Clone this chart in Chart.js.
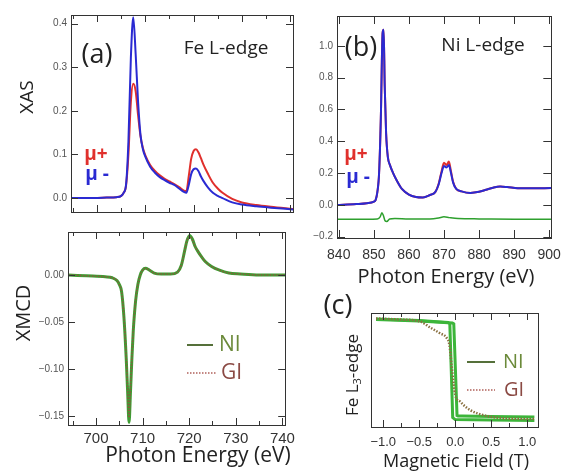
<!DOCTYPE html>
<html>
<head>
<meta charset="utf-8">
<script src="https://cdn.jsdelivr.net/npm/chart.js@4.4.1/dist/chart.umd.min.js"></script>
<style>
  html, body { margin: 0; padding: 0; background: #fff; }
  body { position: relative; width: 570px; height: 472px; overflow: hidden; }
  canvas { position: absolute; }
</style>
</head>
<body>
<canvas id="feXas" width="300" height="222" style="left:0;top:0"></canvas>
<canvas id="feXmcd" width="300" height="250" style="left:0;top:222px"></canvas>
<canvas id="niXas" width="270" height="290" style="left:300px;top:0"></canvas>
<canvas id="loop" width="270" height="182" style="left:300px;top:290px"></canvas>
<script>
// DATA - Fe L-edge XAS (a, top)
const feE = [694, 698, 702, 704, 705, 705.5, 706, 706.5, 707, 707.5, 708, 708.5, 709, 709.5, 710, 711, 712, 713, 714, 715, 716, 717, 718, 718.5, 719, 719.5, 720, 720.5, 721, 721.5, 722, 723, 724, 725, 726, 728, 730, 733, 736, 740.6];
const feMuPlus = [0, 0, 0.001, 0.002, 0.005, 0.012, 0.028, 0.1, 0.22, 0.262, 0.245, 0.19, 0.142, 0.115, 0.098, 0.076, 0.062, 0.052, 0.044, 0.038, 0.032, 0.025, 0.017, 0.016, 0.05, 0.09, 0.108, 0.112, 0.105, 0.092, 0.078, 0.055, 0.035, 0.022, 0.012, -0.002, -0.01, -0.016, -0.02, -0.025];
const feMuMinus = [0, 0, 0.001, 0.002, 0.005, 0.012, 0.03, 0.13, 0.32, 0.415, 0.33, 0.22, 0.145, 0.112, 0.095, 0.072, 0.058, 0.048, 0.041, 0.035, 0.03, 0.022, 0.014, 0.012, 0.03, 0.055, 0.066, 0.068, 0.062, 0.05, 0.04, 0.024, 0.012, 0.005, 0, -0.01, -0.015, -0.019, -0.022, -0.026];

// DATA - Fe XMCD (a, bottom)
const dichE = [694, 698, 702, 703.5, 704.5, 705, 705.5, 706, 706.5, 706.8, 707.1, 707.4, 707.7, 708, 708.5, 709, 709.5, 710, 710.6, 711.5, 712.5, 714, 716, 717.5, 718.3, 719, 719.5, 720.1, 720.7, 721.3, 722, 722.7, 723.5, 724.8, 726.5, 728.5, 731, 735, 740.6];
const dichNI = [0, -0.001, -0.002, -0.003, -0.006, -0.01, -0.018, -0.045, -0.09, -0.125, -0.157, -0.125, -0.09, -0.06, -0.028, -0.01, 0, 0.005, 0.007, 0.005, 0.002, 0.001, 0.001, 0.003, 0.01, 0.025, 0.036, 0.042, 0.038, 0.03, 0.024, 0.019, 0.014, 0.009, 0.005, 0.002, 0.001, 0, 0];
const dichGI = [0, -0.001, -0.002, -0.003, -0.006, -0.01, -0.018, -0.044, -0.088, -0.122, -0.152, -0.122, -0.088, -0.059, -0.027, -0.01, 0, 0.005, 0.007, 0.005, 0.002, 0.001, 0.001, 0.003, 0.01, 0.025, 0.036, 0.041, 0.037, 0.03, 0.024, 0.019, 0.014, 0.009, 0.005, 0.002, 0.001, 0, 0];

// DATA - Ni L-edge (b)
const niE = [839.5, 845, 848, 850, 850.5, 851, 851.5, 852, 852.5, 852.8, 853.1, 853.5, 854, 854.6, 855.5, 856.5, 858, 860, 862, 864, 866, 867.5, 868.5, 869.3, 870, 870.7, 871.4, 872, 872.6, 873.5, 875, 877.5, 880, 882, 884, 886, 888, 891, 895, 900.5];
const niMuPlus = [0, 0.005, 0.01, 0.02, 0.03, 0.08, 0.2, 0.55, 1.08, 1.1, 0.75, 0.45, 0.3, 0.25, 0.2, 0.155, 0.1, 0.065, 0.05, 0.047, 0.062, 0.08, 0.135, 0.21, 0.265, 0.25, 0.272, 0.21, 0.145, 0.1, 0.085, 0.075, 0.082, 0.095, 0.108, 0.115, 0.112, 0.105, 0.104, 0.106];
const niMuMinus = [0, 0.005, 0.01, 0.02, 0.03, 0.08, 0.2, 0.55, 1.08, 1.1, 0.75, 0.45, 0.3, 0.25, 0.2, 0.155, 0.1, 0.065, 0.05, 0.047, 0.062, 0.08, 0.13, 0.2, 0.245, 0.235, 0.25, 0.2, 0.14, 0.1, 0.085, 0.075, 0.082, 0.095, 0.108, 0.115, 0.112, 0.105, 0.104, 0.106];
const niDichE = [839.5, 848, 851, 851.8, 852.3, 852.7, 853.2, 853.7, 854.5, 856, 860, 866, 868.5, 870, 871.5, 874, 880, 890, 900.5];
const niDich = [-0.09, -0.09, -0.088, -0.075, -0.05, -0.065, -0.1, -0.105, -0.088, -0.085, -0.088, -0.088, -0.082, -0.075, -0.08, -0.086, -0.088, -0.09, -0.09];

// DATA - Fe L3 hysteresis (c)
const niLoopH1 = [-1.1, -0.5, -0.2, -0.1, -0.075, -0.055, -0.035, 0.0, 0.5, 1.1];
const niLoopM1 = [1.03, 1.0, 0.97, 0.96, 0.93, 0, -0.96, -1.0, -1.01, -1.02];
const niLoopH2 = [1.1, 0.5, 0.1, 0.04, 0.025, 0.003, -0.02, -0.04, -0.5, -1.1];
const niLoopM2 = [-0.95, -0.94, -0.93, -0.93, -0.92, 0, 0.93, 0.95, 0.99, 1.02];
const giH = [-1.1, -0.8, -0.49, -0.35, -0.21, -0.12, -0.08, -0.056, -0.02, 0.0, 0.07, 0.21, 0.39, 0.63, 1.1];
const giM = [1.04, 1.02, 0.98, 0.86, 0.74, 0.65, 0.5, 0.17, -0.3, -0.5, -0.64, -0.81, -0.91, -0.97, -0.99];

Chart.defaults.font.family = '"Liberation Sans", Arial, sans-serif';
Chart.defaults.color = '#444';

const pts = (xs, ys) => xs.map((x, i) => ({x: x, y: ys[i]}));
const isMult = (v, m) => Math.abs(v / m - Math.round(v / m)) < 1e-6;
const signed = d => v => (v < -1e-9 ? '\u2212' : '') + Math.abs(v).toFixed(d);
const TITLE = '"Open Sans", sans-serif';

// box + inward tick marks on all four sides
const innerTicks = {
  id: 'innerTicks',
  afterDatasetsDraw(chart, args, opts) {
    const {ctx, chartArea: a} = chart;
    ctx.save();
    ctx.strokeStyle = '#333';
    ctx.lineWidth = 1;
    ['x', 'y'].forEach(id => {
      if (opts.skip && opts.skip.indexOf(id) >= 0) return;
      const s = chart.scales[id];
      const major = opts.major && opts.major[id];
      s.ticks.forEach(t => {
        const len = (!major || isMult(t.value, major)) ? opts.len : opts.minorLen;
        const p = Math.round(s.getPixelForValue(t.value)) + 0.5;
        ctx.beginPath();
        if (id === 'x') {
          ctx.moveTo(p, a.bottom); ctx.lineTo(p, a.bottom - len);
          ctx.moveTo(p, a.top); ctx.lineTo(p, a.top + len);
        } else {
          ctx.moveTo(a.left, p); ctx.lineTo(a.left + len, p);
          ctx.moveTo(a.right, p); ctx.lineTo(a.right - len, p);
        }
        ctx.stroke();
      });
    });
    ctx.strokeRect(Math.round(a.left) + 0.5, Math.round(a.top) + 0.5, Math.round(a.right - a.left), Math.round(a.bottom - a.top));
    ctx.restore();
  }
};

// free text, legend samples
const labels = {
  id: 'labels',
  afterDraw(chart, args, opts) {
    const ctx = chart.ctx;
    ctx.save();
    (opts.lines || []).forEach(l => {
      ctx.beginPath();
      ctx.strokeStyle = l.color;
      ctx.lineWidth = l.width;
      ctx.setLineDash(l.dash || []);
      ctx.moveTo(l.x1, l.y); ctx.lineTo(l.x2, l.y);
      ctx.stroke();
    });
    ctx.setLineDash([]);
    (opts.items || []).forEach(it => {
      ctx.save();
      ctx.translate(it.x, it.y);
      if (it.rot) ctx.rotate(it.rot);
      ctx.fillStyle = it.color || '#222';
      ctx.textBaseline = 'middle';
      const parts = it.parts || [{t: it.t}];
      const fontOf = p => (it.bold ? 'bold ' : '') + (p.sub ? Math.round(it.size * 0.65) : it.size) + 'px ' + (it.family || TITLE);
      let w = 0;
      parts.forEach(p => { ctx.font = fontOf(p); w += ctx.measureText(p.t).width; });
      let x = it.align === 'left' ? 0 : -w / 2;
      parts.forEach(p => {
        ctx.font = fontOf(p);
        ctx.fillText(p.t, x, p.sub ? it.size * 0.3 : 0);
        x += ctx.measureText(p.t).width;
      });
      ctx.restore();
    });
    ctx.restore();
  }
};

Chart.register(innerTicks, labels);

function baseOptions(o) {
  return {
    responsive: false,
    animation: false,
    layout: {padding: o.pad},
    elements: {point: {radius: 0}, line: {cubicInterpolationMode: 'monotone'}},
    plugins: {
      legend: {display: false},
      tooltip: {enabled: false},
      innerTicks: o.ticks,
      labels: o.labels
    },
    scales: {
      x: {
        type: 'linear', min: o.x[0], max: o.x[1],
        grid: {display: false, drawTicks: false}, border: {display: false},
        ticks: {stepSize: o.x[2], includeBounds: false, display: o.xLabels !== false, padding: o.xPad || 3,
                font: {size: o.xFont || 15}, color: '#333', maxRotation: 0, autoSkip: false,
                callback: o.xCb},
        afterFit: s => { s.height = o.xh; }
      },
      y: {
        type: 'linear', min: o.y[0], max: o.y[1],
        grid: {display: false, drawTicks: false}, border: {display: false},
        ticks: {stepSize: o.y[2], includeBounds: false, display: o.yLabels !== false, padding: 4,
                font: {size: 10}, color: '#555', callback: o.yCb},
        afterFit: s => { s.width = o.yw; }
      }
    }
  };
}

const RED = '#e0302c', BLUE = '#2a2ad2', NI_GREEN = '#3f9c34', GI_BROWN = '#8a5a3a';

// (a) top: Fe XAS
new Chart(document.getElementById('feXas'), {
  type: 'line',
  data: {datasets: [
    {data: pts(feE, feMuPlus), borderColor: RED, borderWidth: 2, order: 2},
    {data: pts(feE, feMuMinus), borderColor: BLUE, borderWidth: 2, order: 1}
  ]},
  options: baseOptions({
    pad: {top: 15, right: 7, left: 0, bottom: 0},
    x: [694.6, 740.6, 5], xh: 7, xLabels: false,
    y: [-0.032, 0.42, 0.1], yw: 71, yCb: signed(1),
    ticks: {len: 7, minorLen: 4, major: {x: 10}},
    labels: {items: [
      {t: 'XAS', x: 28, y: 97, size: 19, rot: -Math.PI / 2},
      {t: '(a)', x: 97, y: 55, size: 27},
      {t: 'Fe L-edge', x: 226, y: 49, size: 19},
      {t: '\u03bc+', x: 96, y: 155, size: 19, bold: true, color: RED},
      {t: '\u03bc -', x: 97, y: 175, size: 19, bold: true, color: BLUE}
    ]}
  })
});

// (a) bottom: Fe XMCD
new Chart(document.getElementById('feXmcd'), {
  type: 'line',
  data: {datasets: [
    {data: pts(dichE, dichNI), borderColor: NI_GREEN, borderWidth: 3, order: 2},
    {data: pts(dichE, dichGI), borderColor: GI_BROWN, borderWidth: 1.5, borderDash: [1.5, 1.5], order: 1}
  ]},
  options: baseOptions({
    pad: {top: 8, right: 7, left: 0, bottom: 0},
    x: [694, 740.6, 5], xh: 47, xPad: 5,
    xCb: v => isMult(v, 10) ? String(v) : '',
    y: [-0.1598, 0.0457, 0.05], yw: 68, yCb: signed(2),
    ticks: {len: 7, minorLen: 4, major: {x: 10}},
    labels: {
      lines: [
        {x1: 187, x2: 213, y: 123, color: '#55703a', width: 2},
        {x1: 187, x2: 216, y: 151, color: '#b0605a', width: 1.5, dash: [1.5, 1.5]}
      ],
      items: [
        {t: 'XMCD', x: 24, y: 91, size: 20, rot: -Math.PI / 2},
        {t: 'Photon Energy (eV)', x: 198, y: 234, size: 21},
        {t: 'NI', x: 219, y: 123, size: 21, align: 'left', color: '#6b8a3a'},
        {t: 'GI', x: 221, y: 151, size: 21, align: 'left', color: '#8b4a44'}
      ]
    }
  })
});

// (b): Ni L-edge
new Chart(document.getElementById('niXas'), {
  type: 'line',
  data: {datasets: [
    {data: pts(niE, niMuPlus), borderColor: RED, borderWidth: 2, order: 3},
    {data: pts(niE, niMuMinus), borderColor: BLUE, borderWidth: 2, order: 2},
    {data: pts(niDichE, niDich), borderColor: '#2ea02e', borderWidth: 1.5, order: 1}
  ]},
  options: baseOptions({
    pad: {top: 16, right: 11, left: 0, bottom: 0},
    x: [839.5, 900.6, 10], xh: 52, xFont: 14, xPad: 9,
    xCb: v => String(v),
    y: [-0.208, 1.187, 0.2], yw: 37, yCb: signed(1),
    ticks: {len: 8, minorLen: 8},
    labels: {items: [
      {t: '(b)', x: 61, y: 48, size: 27},
      {t: 'Ni L-edge', x: 183, y: 46, size: 19},
      {t: '\u03bc+', x: 56, y: 155, size: 19, bold: true, color: RED},
      {t: '\u03bc -', x: 58, y: 178, size: 19, bold: true, color: BLUE},
      {t: 'Photon Energy (eV)', x: 146, y: 277, size: 20}
    ]}
  })
});

// (c): Fe L3-edge hysteresis
new Chart(document.getElementById('loop'), {
  type: 'line',
  data: {datasets: [
    {data: pts(niLoopH1, niLoopM1), borderColor: '#3cb53a', borderWidth: 3, cubicInterpolationMode: 'default', tension: 0, order: 3},
    {data: pts(niLoopH2, niLoopM2), borderColor: '#3cb53a', borderWidth: 3, cubicInterpolationMode: 'default', tension: 0, order: 2},
    {data: pts(giH, giM), borderColor: '#8a7040', borderWidth: 2.5, borderDash: [1.5, 1.5], order: 1}
  ]},
  options: baseOptions({
    pad: {top: 23, right: 32, left: 0, bottom: 0},
    x: [-1.17, 1.15, 0.25], xh: 45, xFont: 13, xPad: 8,
    xCb: v => isMult(v, 0.5) ? signed(1)(v) : '',
    y: [-1.15, 1.15, 0.5], yw: 71, yLabels: false,
    ticks: {len: 7, minorLen: 4, major: {x: 0.5}, skip: ['y']},
    labels: {
      lines: [
        {x1: 167, x2: 195, y: 72, color: '#55703a', width: 2},
        {x1: 167, x2: 195, y: 100, color: '#b0605a', width: 1.5, dash: [1.5, 1.5]}
      ],
      items: [
        {t: '(c)', x: 38, y: 16, size: 27},
        {parts: [{t: 'Fe L'}, {t: '3', sub: true}, {t: '-edge'}], x: 53, y: 85, size: 17, rot: -Math.PI / 2},
        {t: 'Magnetic Field (T)', x: 156, y: 172, size: 18},
        {t: 'NI', x: 203, y: 72, size: 20, align: 'left', color: '#6b8a3a'},
        {t: 'GI', x: 204, y: 100, size: 20, align: 'left', color: '#8b4a44'}
      ]
    }
  })
});
</script>
</body>
</html>
